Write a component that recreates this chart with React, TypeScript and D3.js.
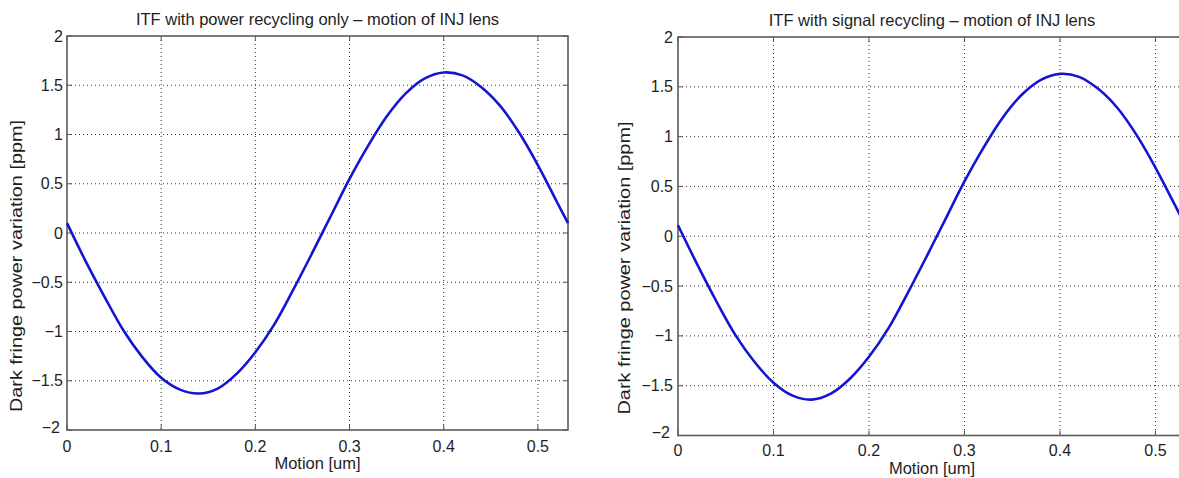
import React from "react";
import * as d3 from "d3";

// Data
const motionUm = [
  0, 0.02, 0.04, 0.06, 0.08, 0.1, 0.12, 0.14, 0.16, 0.18, 0.2, 0.22, 0.24, 0.26,
  0.28, 0.3, 0.32, 0.34, 0.36, 0.38, 0.4, 0.42, 0.44, 0.46, 0.48, 0.5, 0.52, 0.532,
];
const powerRecyclingPpm = [
  0.1, -0.29, -0.65, -0.99, -1.26, -1.47, -1.59, -1.63, -1.58, -1.43, -1.21, -0.93,
  -0.58, -0.21, 0.17, 0.55, 0.89, 1.19, 1.42, 1.57, 1.63, 1.6, 1.48, 1.29, 1.02,
  0.69, 0.32, 0.1,
];
const signalRecyclingPpm = [
  0.11, -0.28, -0.65, -0.99, -1.26, -1.47, -1.6, -1.64, -1.58, -1.43, -1.21, -0.93,
  -0.58, -0.21, 0.17, 0.55, 0.89, 1.19, 1.42, 1.57, 1.63, 1.6, 1.48, 1.29, 1.02,
  0.69, 0.32, 0.1,
];
const xTicks = [0, 0.1, 0.2, 0.3, 0.4, 0.5];
const yTicks = [-2, -1.5, -1, -0.5, 0, 0.5, 1, 1.5, 2];
const xDomain = [0, 0.532];
const yDomain = [-2, 2];
const titles = [
  "ITF with power recycling only \u2013 motion of INJ lens",
  "ITF with signal recycling \u2013 motion of INJ lens",
];
const xLabel = "Motion [um]";
const yLabel = "Dark fringe power variation [ppm]";

const FONT = "'Liberation Sans', Arial, Helvetica, sans-serif";
const TEXT = "#1e1e1e";

function fmt(v: number) {
  const s = String(v);
  return v < 0 ? "\u2212" + s.slice(1) : s;
}

type PanelProps = {
  left: number;
  right: number;
  top: number;
  bottom: number;
  values: number[];
  title: string;
  titleY: number;
  xTickY: number;
  xLabelY: number;
  yLabelX: number;
  yLabelCenter: number;
  yLabelLen: number;
  yTickX: number;
};

function Panel(p: PanelProps) {
  const x = d3.scaleLinear().domain(xDomain).range([p.left, p.right]);
  const y = d3.scaleLinear().domain(yDomain).range([p.bottom, p.top]);
  const pts = motionUm.map((m, i) => [m, p.values[i]] as [number, number]);
  const line = d3
    .line<[number, number]>()
    .x((d) => x(d[0]))
    .y((d) => y(d[1]))
    .curve(d3.curveCatmullRom.alpha(0.5));
  const tl = 5;
  const cx = (p.left + p.right) / 2;
  return (
    <g>
      {/* grid */}
      {xTicks.slice(1).map((t) => (
        <line
          key={"gx" + t}
          x1={x(t)}
          x2={x(t)}
          y1={p.top}
          y2={p.bottom}
          stroke="#333"
          strokeWidth={1}
          strokeDasharray="1,3"
        />
      ))}
      {yTicks.slice(1, -1).map((t) => (
        <line
          key={"gy" + t}
          x1={p.left}
          x2={p.right}
          y1={y(t)}
          y2={y(t)}
          stroke="#333"
          strokeWidth={1}
          strokeDasharray="1,3"
        />
      ))}
      {/* ticks */}
      {xTicks.map((t) => (
        <g key={"tx" + t}>
          <line x1={x(t)} x2={x(t)} y1={p.bottom} y2={p.bottom - tl} stroke="#555" strokeWidth={1} />
          <line x1={x(t)} x2={x(t)} y1={p.top} y2={p.top + tl} stroke="#555" strokeWidth={1} />
          <text
            x={x(t)}
            y={p.xTickY}
            textAnchor="middle"
            fontFamily={FONT}
            fontSize={16}
            fill={TEXT}
          >
            {fmt(t)}
          </text>
        </g>
      ))}
      {yTicks.map((t) => (
        <g key={"ty" + t}>
          <line x1={p.left} x2={p.left + tl} y1={y(t)} y2={y(t)} stroke="#555" strokeWidth={1} />
          <line x1={p.right} x2={p.right - tl} y1={y(t)} y2={y(t)} stroke="#555" strokeWidth={1} />
          <text
            x={p.yTickX - (t === -2 ? 3 : 0)}
            y={y(t) + (t === -2 ? -3 : 0)}
            textAnchor="end"
            dominantBaseline="central"
            fontFamily={FONT}
            fontSize={16}
            fill={TEXT}
          >
            {fmt(t)}
          </text>
        </g>
      ))}
      {/* frame */}
      <rect
        x={p.left}
        y={p.top}
        width={p.right - p.left}
        height={p.bottom - p.top}
        fill="none"
        stroke="#5a5a5a"
        strokeWidth={1.6}
      />
      {/* curve */}
      <path d={line(pts) || ""} fill="none" stroke="#1414d2" strokeWidth={2.6} />
      {/* labels */}
      <text x={cx} y={p.titleY} textAnchor="middle" fontFamily={FONT} fontSize={16.5} fill={TEXT}>
        {p.title}
      </text>
      <text x={cx} y={p.xLabelY} textAnchor="middle" fontFamily={FONT} fontSize={16.5} fill={TEXT}>
        {xLabel}
      </text>
      <text
        transform={`translate(${p.yLabelX},${p.yLabelCenter}) rotate(-90)`}
        textAnchor="middle"
        fontFamily={FONT}
        fontSize={16.5}
        fill={TEXT}
        textLength={p.yLabelLen}
        lengthAdjust="spacingAndGlyphs"
      >
        {yLabel}
      </text>
    </g>
  );
}

export default function App() {
  return (
    <svg
      width={1179}
      height={478}
      style={{ position: "absolute", left: 0, top: 0, background: "#fff" }}
    >
      <rect x={0} y={0} width={1179} height={478} fill="#fff" />
      <Panel
        left={67}
        right={568}
        top={36}
        bottom={430}
        values={powerRecyclingPpm}
        title={titles[0]}
        titleY={25}
        xTickY={452}
        xLabelY={469}
        yLabelX={22}
        yLabelCenter={266}
        yLabelLen={292}
        yTickX={63}
      />
      <Panel
        left={678}
        right={1186}
        top={37}
        bottom={435.5}
        values={signalRecyclingPpm}
        title={titles[1]}
        titleY={26}
        xTickY={456}
        xLabelY={474}
        yLabelX={630}
        yLabelCenter={268}
        yLabelLen={293}
        yTickX={673}
      />
    </svg>
  );
}
